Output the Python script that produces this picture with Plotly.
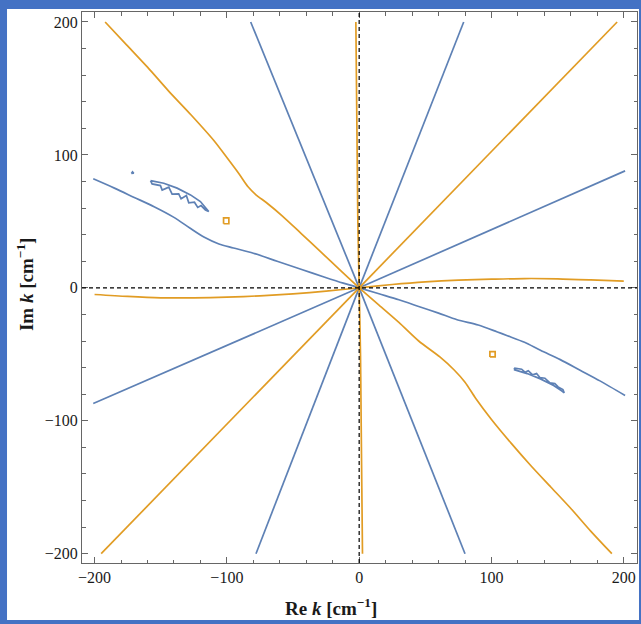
import plotly.graph_objects as go

# ---------------- data (Re k, Im k in cm^-1) ----------------
# orange curves
orange_nw_x = [-192, -176, -160, -144, -127, -110, -100, -91, -84, -78, -70, -58, -44, -29, -14, 0]
orange_nw_y = [200, 183, 166, 148, 130, 111, 98, 86, 76, 70, 64, 54, 41, 27, 13, 0]
orange_se_x = [0, 15, 30, 45, 61, 72, 80, 88, 100, 115, 130, 145, 160, 175, 191]
orange_se_y = [0, -13, -26, -40, -52, -62, -71, -83, -99, -117, -134, -150, -166, -183, -200]
orange_ne_x = [0, 195]
orange_ne_y = [0, 200]
orange_sw_x = [-195, 0]
orange_sw_y = [-200, 0]
orange_h_x = [-200, -175, -150, -125, -100, -75, -50, -25, 0, 25, 50, 75, 100, 125, 150, 175, 200]
orange_h_y = [-5, -6.5, -7.5, -7.5, -7, -6, -4.5, -2.5, 0, 2.5, 4.5, 5.8, 6.5, 7, 6.8, 6, 5]
orange_v_x = [-2.5, -2, -1.5, -1, 0, 1, 1.5, 2, 2.5]
orange_v_y = [200, 150, 100, 50, 0, -50, -100, -150, -200]
orange_sq_left_x = [-102.5, -98.5, -98.5, -102.5, -102.5]
orange_sq_left_y = [48.2, 48.2, 52.6, 52.6, 48.2]
orange_sq_right_x = [98.8, 102.8, 102.8, 98.8, 98.8]
orange_sq_right_y = [-52, -52, -48, -48, -52]

# blue curves
blue_w_x = [-201, -185, -170, -155, -140, -128, -117, -106, -95, -80, -62, -44, -26, -12, 0]
blue_w_y = [82, 75, 68, 61, 53, 45, 38, 33, 30, 26, 20, 14, 8, 3.5, 0]
blue_e_x = [0, 15, 30, 45, 60, 74, 90, 104, 112, 125, 137, 152, 167, 182, 201]
blue_e_y = [0, -4.5, -9, -14, -19, -24, -28, -33, -36, -41, -47, -54, -62, -70, -81]
blue_nnw_x = [-82, 0]
blue_nnw_y = [200, 0]
blue_nne_x = [0, 79]
blue_nne_y = [0, 200]
blue_ene_x = [0, 201]
blue_ene_y = [0, 88]
blue_wsw_x = [-201, 0]
blue_wsw_y = [-87, 0]
blue_ssw_x = [-78, 0]
blue_ssw_y = [-200, 0]
blue_sse_x = [0, 80]
blue_sse_y = [0, -200]
# closed blue contours (slivers and dot)
blue_sliver_left_x = [-157.7, -147.7, -137.6, -127.5, -120, -113.7,
                      -116.2, -119.5, -122, -124.5, -128.8, -130.6, -134.6, -136.4,
                      -141.4, -143.9, -148.9, -150.2, -156.5, -157.7]
blue_sliver_left_y = [80.7, 78.7, 75.0, 69.9, 64.9, 57.4,
                      58.6, 61.9, 60.5, 64.4, 64.0, 69.4, 67.0, 70.7,
                      70.5, 75.7, 73.5, 76.9, 78.2, 80.7]
blue_sliver_right_x = [117, 127, 137, 147, 153, 155,
                       154, 150.4, 147.9, 144.2, 140.4, 136.6, 134.1, 131.1,
                       127.8, 125.3, 122.8, 117.7, 117]
blue_sliver_right_y = [-61.5, -64.5, -68.5, -73.5, -77.5, -79,
                       -76.5, -74.5, -72.0, -71.5, -68.0, -67.5, -64.5, -65.5,
                       -62.3, -63.5, -61.2, -60.5, -61.5]
blue_dot_x = [-172.2, -170.4, -171.3, -172.2]
blue_dot_y = [86.0, 86.2, 87.2, 86.0]

# axis ticks
tick_vals = [-200, -100, 0, 100, 200]
tick_text = ["\u2212200", "\u2212100", "0", "100", "200"]

BLUE = "#5E81B5"
ORANGE = "#E19C24"

fig = go.Figure()


def add(xs, ys, color, smooth=False):
    line = dict(color=color, width=1.7)
    if smooth:
        line.update(shape="spline", smoothing=0.8)
    fig.add_trace(go.Scatter(x=xs, y=ys, mode="lines", line=line,
                             showlegend=False, hoverinfo="skip"))


for xs, ys, sm in [(blue_w_x, blue_w_y, True), (blue_e_x, blue_e_y, True),
                   (blue_nnw_x, blue_nnw_y, False), (blue_nne_x, blue_nne_y, False),
                   (blue_ene_x, blue_ene_y, False), (blue_wsw_x, blue_wsw_y, False),
                   (blue_ssw_x, blue_ssw_y, False), (blue_sse_x, blue_sse_y, False),
                   (blue_sliver_left_x, blue_sliver_left_y, False),
                   (blue_sliver_right_x, blue_sliver_right_y, False),
                   (blue_dot_x, blue_dot_y, False)]:
    add(xs, ys, BLUE, sm)

for xs, ys, sm in [(orange_nw_x, orange_nw_y, True), (orange_se_x, orange_se_y, True),
                   (orange_ne_x, orange_ne_y, False), (orange_sw_x, orange_sw_y, False),
                   (orange_h_x, orange_h_y, True), (orange_v_x, orange_v_y, True),
                   (orange_sq_left_x, orange_sq_left_y, False),
                   (orange_sq_right_x, orange_sq_right_y, False)]:
    add(xs, ys, ORANGE, sm)

# dashed axes through the origin
fig.add_vline(x=0, line=dict(color="black", width=1.2, dash="4px,3px"))
fig.add_hline(y=0, line=dict(color="black", width=1.2, dash="4px,3px"))

# white panel on the blue slide background
fig.add_shape(type="rect", xref="paper", yref="paper",
              x0=-0.1351, x1=1.0036, y0=-0.1034, y1=1.0054,
              fillcolor="white", line=dict(width=0), layer="below")

axis_common = dict(
    showgrid=False, zeroline=False,
    showline=True, linecolor="#666666", linewidth=1, mirror="ticks",
    ticks="inside", ticklen=6, tickwidth=1, tickcolor="#666666",
    tickvals=tick_vals, ticktext=tick_text,
    minor=dict(dtick=20, tick0=0, ticks="inside", ticklen=3.5,
               tickcolor="#666666", tickwidth=1, showgrid=False),
    tickfont=dict(family="Liberation Serif", size=16, color="#1a1a1a"),
)

fig.update_xaxes(range=[-209.5, 210], **axis_common)
fig.update_yaxes(range=[-207, 207.5], **axis_common)

fig.add_annotation(xref="paper", yref="paper", x=0.4486, y=-0.0799,
                   text="<b>Re <i>k</i> [cm<sup>\u22121</sup>]</b>",
                   showarrow=False, xanchor="center", yanchor="middle",
                   font=dict(family="Liberation Serif", size=19, color="#1a1a1a"))
fig.add_annotation(xref="paper", yref="paper", x=-0.1027, y=0.5045,
                   text="<b>Im <i>k</i> [cm<sup>\u22121</sup>]</b>",
                   textangle=-90, showarrow=False,
                   xanchor="center", yanchor="middle",
                   font=dict(family="Liberation Serif", size=19, color="#1a1a1a"))

fig.update_layout(
    width=641, height=624,
    margin=dict(l=82, r=4, t=12, b=61),
    paper_bgcolor="#4472C4",
    plot_bgcolor="white",
)

fig.write_html(
    "out.html",
    config={"displayModeBar": False},
    post_script="document.body.style.margin='0';document.body.style.padding='0';"
                "document.body.style.overflow='hidden';",
)
